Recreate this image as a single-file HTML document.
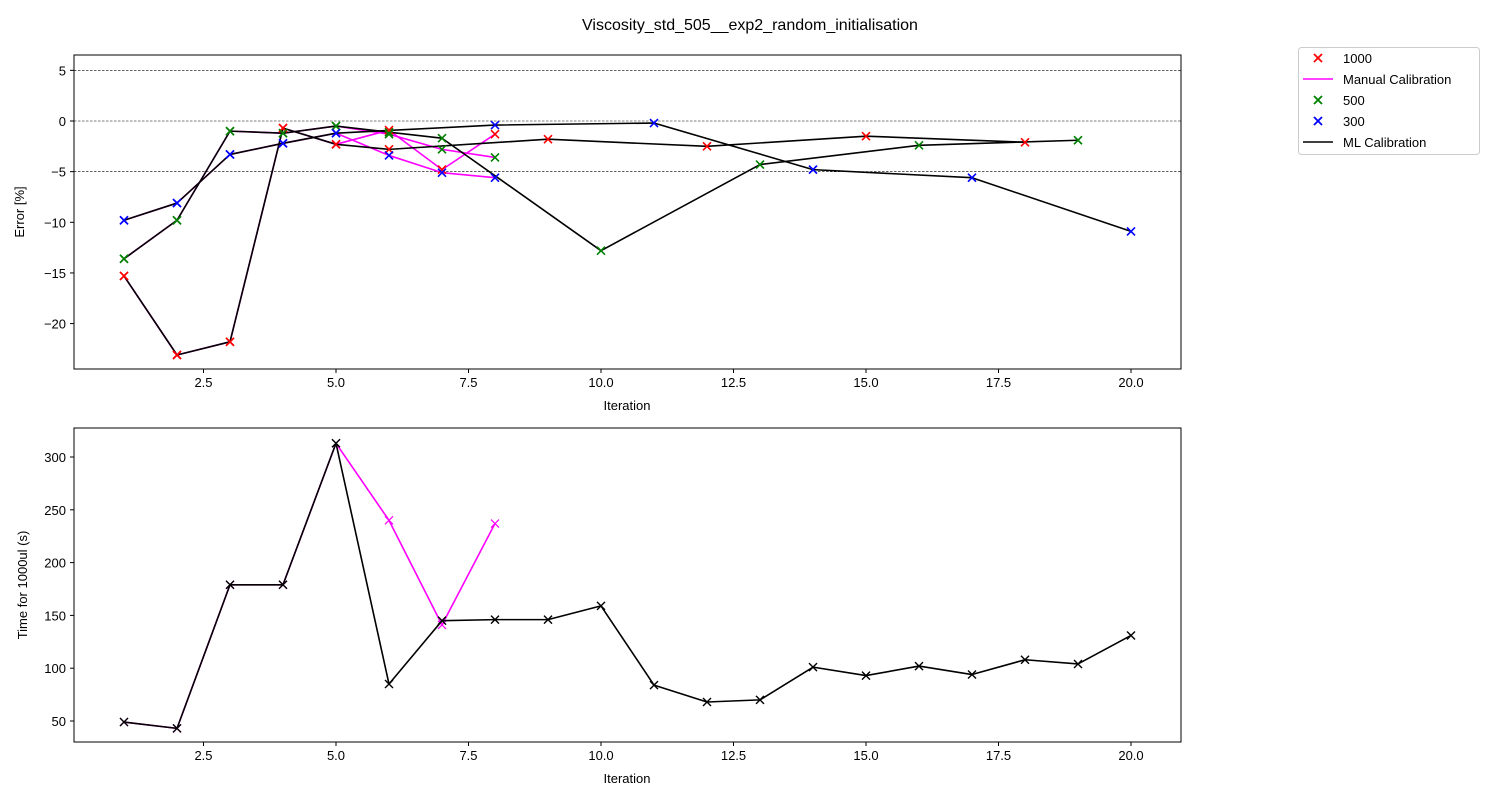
<!DOCTYPE html>
<html><head><meta charset="utf-8"><style>
body{margin:0;background:#fff;}
svg text{font-family:"Liberation Sans","DejaVu Sans",sans-serif;fill:#000;}
</style></head><body>
<svg id="chart" width="1500" height="800" xmlns="http://www.w3.org/2000/svg">
<rect width="1500" height="800" fill="#fff"/>
<text x="750" y="30" font-size="16" text-anchor="middle">Viscosity_std_505__exp2_random_initialisation</text>
<g id="topPanel"></g>
<g id="botPanel"></g>
<g id="legend"></g>
</svg>
<script>
const xTicks = [2.5, 5.0, 7.5, 10.0, 12.5, 15.0, 17.5, 20.0];
const topTicks = [5, 0, -5, -10, -15, -20];
const botTicks = [50, 100, 150, 200, 250, 300];
const gridLevels = [5, 0, -5];
// ML calibration error series [iteration, error%]
const mlRedX = [1,2,3,4,5,6,9,12,15,18];
const mlRedY = [-15.3,-23.1,-21.8,-0.7,-2.3,-2.8,-1.8,-2.5,-1.5,-2.1];
const mlGreenX = [1,2,3,4,5,6,7,10,13,16,19];
const mlGreenY = [-13.6,-9.8,-1.0,-1.2,-0.5,-1.1,-1.7,-12.8,-4.3,-2.4,-1.9];
const mlBlueX = [1,2,3,4,5,8,11,14,17,20];
const mlBlueY = [-9.8,-8.1,-3.3,-2.2,-1.2,-0.4,-0.2,-4.8,-5.6,-10.9];
// Manual calibration error series
const manX = [1,2,3,4,5,6,7,8];
const manRedY = [-15.3,-23.1,-21.8,-0.7,-2.3,-0.9,-4.8,-1.3];
const manGreenY = [-13.6,-9.8,-1.0,-1.2,-0.5,-1.3,-2.8,-3.6];
const manBlueY = [-9.8,-8.1,-3.3,-2.2,-1.2,-3.4,-5.1,-5.6];
// Time series
const timeX = [1,2,3,4,5,6,7,8,9,10,11,12,13,14,15,16,17,18,19,20];
const timeML = [49,43,179,179,313,85,145,146,146,159,84,68,70,101,93,102,94,108,104,131];
const timeManX = [1,2,3,4,5,6,7,8];
const timeMan = [49,43,179,179,313,240,141,237];

const NS = "http://www.w3.org/2000/svg";
function mk(parent, tag, attrs){const e=document.createElementNS(NS,tag);for(const k in attrs)e.setAttribute(k,attrs[k]);parent.appendChild(e);return e;}
const X = v => 124 + (v-1)*53;
const YT = v => 121 - v*10.13;
const YB = v => 721 - (v-50)*1.056;
const topG = document.getElementById('topPanel'), botG = document.getElementById('botPanel'), leg = document.getElementById('legend');

function axes(g, y0, y1, ticks, Y, ylabel, fmt){
  for(const t of xTicks){
    const tk=mk(g,'line',{x1:X(t),x2:X(t),y1:y1,y2:y1+4,stroke:'#000'});
    
    
    const tx=mk(g,'text',{x:X(t),y:y1+18,'font-size':13,'text-anchor':'middle'});
    tx.textContent=t.toFixed(1);
    
    
  }
  for(const t of ticks){
    const tk=mk(g,'line',{x1:70,x2:74,y1:Y(t),y2:Y(t),stroke:'#000'});
    
    
    const tx=mk(g,'text',{x:66,y:Y(t)+5,'font-size':13,'text-anchor':'end'});
    tx.textContent=fmt(t);
    
    
  }
  const xl=mk(g,'text',{x:627,y:y1+41,'font-size':13,'text-anchor':'middle'});
  xl.textContent='Iteration';
  
  
  const yl=mk(g,'text',{x:0,y:0,'font-size':13,'text-anchor':'middle',transform:`translate(${ylabel[1]},${(y0+y1)/2}) rotate(-90)`});
  yl.textContent=ylabel[0];
  
  
}
function frame(g,y0,y1){
  const r=mk(g,'rect',{x:74,y:y0,width:1107,height:y1-y0,fill:'none',stroke:'#000','stroke-width':1});
  
  
}
function line(g,xs,ys,Y,color,name){
  const p=mk(g,'polyline',{points:xs.map((x,i)=>X(x)+','+Y(ys[i])).join(' '),fill:'none',stroke:color,'stroke-width':1.6,'stroke-linejoin':'round'});
  
  
}
function marks(g,xs,ys,Y,color,s,name,w){
  xs.forEach((x,i)=>{
    const cx=X(x),cy=Y(ys[i]);
    const m=mk(g,'path',{d:`M${cx-s},${cy-s}L${cx+s},${cy+s}M${cx-s},${cy+s}L${cx+s},${cy-s}`,stroke:color,'stroke-width':w,fill:'none'});
    
    
  });
}
// top panel
for(const lv of gridLevels){
  const gl=mk(topG,'line',{x1:74,x2:1181,y1:YT(lv),y2:YT(lv),stroke:'#000','stroke-width':0.6,'stroke-dasharray':'2.5,1.5'});
  
  
}
axes(topG,55,369,topTicks,YT,['Error [%]',24],t=>t<0?'\u2212'+Math.abs(t):String(t));
line(topG,manX,manRedY,YT,'#ff00ff','manual-line-1000');
line(topG,manX,manGreenY,YT,'#ff00ff','manual-line-500');
line(topG,manX,manBlueY,YT,'#ff00ff','manual-line-300');
line(topG,mlRedX,mlRedY,YT,'#000','ml-line-1000');
line(topG,mlGreenX,mlGreenY,YT,'#000','ml-line-500');
line(topG,mlBlueX,mlBlueY,YT,'#000','ml-line-300');
marks(topG,mlRedX,mlRedY,YT,'#ff0000',4,'marker-1000',1.6);
marks(topG,mlGreenX,mlGreenY,YT,'#008000',4,'marker-500',1.6);
marks(topG,mlBlueX,mlBlueY,YT,'#0000ff',4,'marker-300',1.6);
marks(topG,manX,manRedY,YT,'#ff0000',4,'marker-1000-manual',1.6);
marks(topG,manX,manGreenY,YT,'#008000',4,'marker-500-manual',1.6);
marks(topG,manX,manBlueY,YT,'#0000ff',4,'marker-300-manual',1.6);
frame(topG,55,369);
// bottom panel
axes(botG,428,742,botTicks,YB,['Time for 1000ul (s)',27],t=>String(t));
line(botG,timeManX,timeMan,YB,'#ff00ff','manual-time-line');
marks(botG,timeManX,timeMan,YB,'#ff00ff',4,'manual-time-marker',1.2);
line(botG,timeX,timeML,YB,'#000','ml-time-line');
marks(botG,timeX,timeML,YB,'#000',4,'ml-time-marker',1.4);
frame(botG,428,742);
// legend
const lb=mk(leg,'rect',{x:1298.5,y:47.5,width:181,height:107,rx:3,fill:'#fff',stroke:'#ccc'});


const items=[['1000','x','#ff0000'],['Manual Calibration','l','#ff00ff'],['500','x','#008000'],['300','x','#0000ff'],['ML Calibration','l','#000']];
items.forEach((it,i)=>{
  const y=58+i*21;
  if(it[1]==='x'){
    const m=mk(leg,'path',{d:`M1314,${y-4}L1322,${y+4}M1314,${y+4}L1322,${y-4}`,stroke:it[2],'stroke-width':1.8});
    
    
  } else {
    const m=mk(leg,'line',{x1:1303,x2:1333,y1:y,y2:y,stroke:it[2],'stroke-width':1.6});
    
    
  }
  const t=mk(leg,'text',{x:1343,y:y+5,'font-size':13});
  t.textContent=it[0];
  
  
});
</script>
</body></html>
